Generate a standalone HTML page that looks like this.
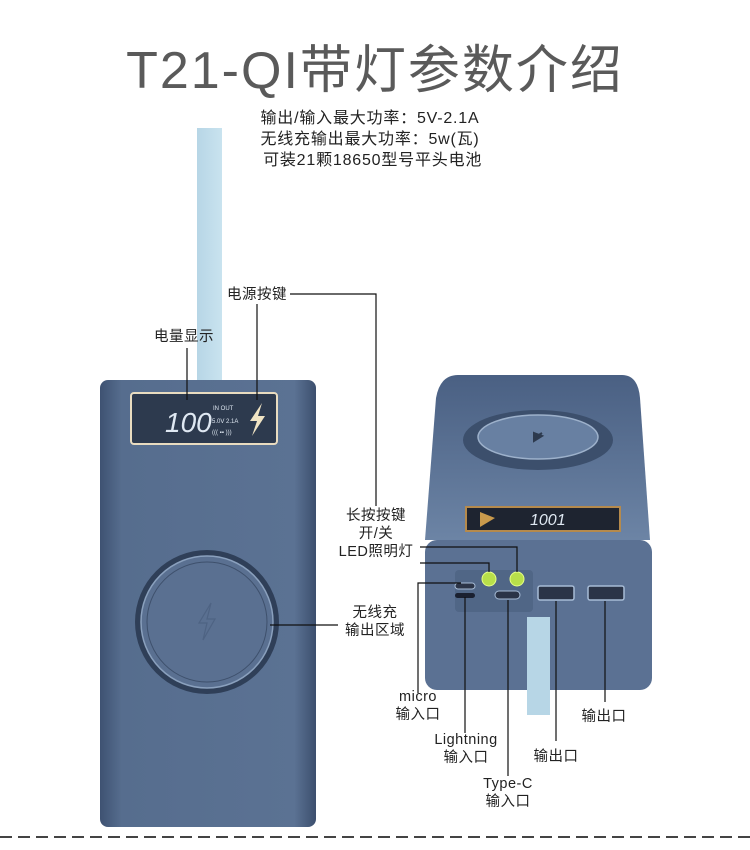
<!DOCTYPE html>
<html><head><meta charset="utf-8"><style>
body{margin:0;width:750px;height:850px;background:#fff;position:relative;overflow:hidden;font-family:"Liberation Sans","Noto Sans CJK SC",sans-serif;}
.a{position:absolute;}
.t{position:absolute;font-size:14.5px;color:#222;white-space:nowrap;line-height:18px;text-align:center;letter-spacing:0.5px;}
</style></head><body>
<div class="a" style="left:0;top:28px;width:750px;text-align:center;font-size:52px;color:#5a5a5a;letter-spacing:2px;font-family:'Liberation Sans','Noto Sans CJK SC',sans-serif;">T21-QI带灯参数介绍</div>
<div class="t" style="left:225px;top:108px;width:290px;font-size:16px;line-height:21px;letter-spacing:0.8px;">输出/输入最大功率：5V-2.1A<br>无线充输出最大功率：5w(瓦)<br>&nbsp;可装21颗18650型号平头电池</div>

<svg class="a" style="left:0;top:0" width="750" height="850">
<defs>
<linearGradient id="strap" x1="0" x2="1"><stop offset="0" stop-color="#b7d6e6"/><stop offset="1" stop-color="#c9e3ef"/></linearGradient>
<linearGradient id="body" x1="0" x2="1"><stop offset="0" stop-color="#3e5272"/><stop offset="0.1" stop-color="#566d8e"/><stop offset="0.9" stop-color="#5b7293"/><stop offset="1" stop-color="#3c4f6e"/></linearGradient>
<linearGradient id="top" x1="0" y1="0" x2="0" y2="1"><stop offset="0" stop-color="#4a6083"/><stop offset="1" stop-color="#6c84a5"/></linearGradient>
</defs>
<rect x="197" y="128" width="25" height="256" fill="url(#strap)"/>
<rect x="100" y="380" width="216" height="447" rx="8" fill="url(#body)"/>
<rect x="131" y="393" width="146" height="51" rx="3" fill="#2d3a4e" stroke="#e9dcc0" stroke-width="2"/>
<text x="165" y="432" font-size="28" fill="#dfe8f2" font-style="italic" font-family="Liberation Sans">100</text>
<text x="213" y="410" font-size="6" fill="#dfe8f2">IN OUT</text>
<text x="212" y="423" font-size="6" fill="#dfe8f2">5.0V 2.1A</text>
<text x="212" y="434" font-size="6" fill="#dfe8f2">((( ▪▪ )))</text>
<path d="M262 403 L250 421 L257 421 L252 436 L265 416 L258 416 Z" fill="#f0e4c4"/>
<circle cx="207" cy="622" r="72" fill="#2f3f58"/>
<circle cx="207" cy="622" r="66" fill="#5a7091" stroke="#8aa0bd" stroke-width="1.5"/>
<circle cx="207" cy="622" r="60" fill="none" stroke="#3e506c" stroke-width="1"/>
<path d="M211 603 L199 623 L207 623 L203 640 L215 619 L207 619 Z" fill="none" stroke="#4e6383" stroke-width="1.2"/>

<path d="M458 375 L622 375 Q638 375 640 398 L650 540 L425 540 L436 398 Q440 375 458 375 Z" fill="url(#top)"/>
<ellipse cx="538" cy="440" rx="75" ry="30" fill="#3c4f6c"/>
<ellipse cx="538" cy="437" rx="60" ry="22" fill="#6880a2" stroke="#9db1cb" stroke-width="1.5"/>
<path d="M534 433 L542 436 L534 441 Z M542 433 L534 438" stroke="#2d3a4e" stroke-width="2" fill="#2d3a4e"/>
<rect x="466" y="507" width="154" height="24" fill="#1e2430" stroke="#b58a4c" stroke-width="2"/>
<text x="530" y="525" font-size="16" fill="#dfe8f2" font-style="italic">1001</text>
<path d="M480 512 L495 518 L480 527 Z" fill="#c99a4c"/>
<rect x="425" y="540" width="227" height="150" rx="12" fill="#5b7193"/>
<rect x="455" y="570" width="78" height="42" rx="4" fill="#506686"/>
<rect x="455" y="583" width="20" height="6" rx="3" fill="#2b3447" stroke="#a7bcd6"/>
<rect x="455" y="593" width="20" height="5" rx="2.5" fill="#1a2030"/>
<circle cx="489" cy="579" r="7" fill="#b8e04a" stroke="#e7ff88"/>
<circle cx="517" cy="579" r="7" fill="#b8e04a" stroke="#e7ff88"/>
<rect x="495" y="591" width="25" height="8" rx="4" fill="#2b3447" stroke="#a7bcd6"/>
<rect x="538" y="586" width="36" height="14" rx="2" fill="#2b3447" stroke="#a7bcd6" stroke-width="1.5"/>
<rect x="588" y="586" width="36" height="14" rx="2" fill="#2b3447" stroke="#a7bcd6" stroke-width="1.5"/>
<rect x="527" y="617" width="23" height="98" fill="#b7d6e6"/>

<g stroke="#111" stroke-width="1.2" fill="none">
<path d="M187 348 V400"/>
<path d="M257 304 V400"/>
<path d="M290 294 H376 V506"/>
<path d="M270 625 H338"/>
<path d="M420 547 H517 V572"/>
<path d="M420 563 H489 V572"/>
<path d="M461 583 H418 V693"/>
<path d="M465 597 V733"/>
<path d="M508 600 V776"/>
<path d="M556 601 V741"/>
<path d="M605 601 V702"/>
</g>
<line x1="0" y1="837" x2="750" y2="837" stroke="#444" stroke-width="2" stroke-dasharray="12,6"/>
</svg>

<div class="t" style="left:154px;top:328px;">电量显示</div>
<div class="t" style="left:227px;top:286px;">电源按键</div>
<div class="t" style="left:332px;top:507px;width:88px;">长按按键<br>开/关<br>LED照明灯</div>
<div class="t" style="left:338px;top:604px;width:74px;">无线充<br>输出区域</div>
<div class="t" style="left:388px;top:688px;width:60px;">micro<br>输入口</div>
<div class="t" style="left:424px;top:731px;width:84px;">Lightning<br>输入口</div>
<div class="t" style="left:474px;top:775px;width:68px;">Type-C<br>输入口</div>
<div class="t" style="left:528px;top:748px;width:56px;">输出口</div>
<div class="t" style="left:576px;top:708px;width:56px;">输出口</div>
</body></html>
